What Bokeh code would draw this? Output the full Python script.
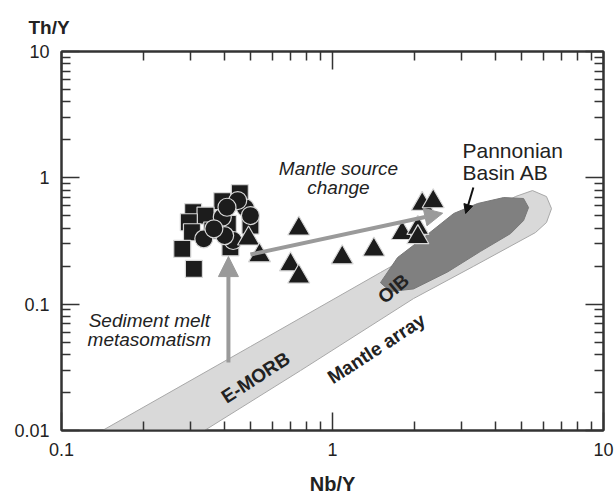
from bokeh.plotting import figure
from bokeh.models import (Range1d, LogAxis, FixedTicker, CustomJSTickFormatter,
                          Arrow, NormalHead)
from bokeh.core.properties import value
from bokeh.embed import file_html
from bokeh.resources import INLINE
import math

# ---------------- data ----------------
sq_x = [0.306, 0.455, 0.392, 0.340, 0.295, 0.303, 0.411, 0.279, 0.308, 0.498, 0.420, 0.360]
sq_y = [0.534, 0.755, 0.653, 0.503, 0.445, 0.371, 0.432, 0.274, 0.190, 0.419, 0.282, 0.383]

ci_x = [0.477, 0.447, 0.498, 0.392, 0.335, 0.430, 0.400, 0.365, 0.408]
ci_y = [0.579, 0.661, 0.503, 0.488, 0.329, 0.319, 0.349, 0.395, 0.585]

tr_x = [0.490, 0.538, 0.751, 0.700, 0.751, 1.086, 1.421, 1.807, 2.065, 2.065, 2.143, 2.353]
tr_y = [0.330, 0.243, 0.396, 0.206, 0.165, 0.234, 0.270, 0.365, 0.400, 0.338, 0.620, 0.651]

# Mantle array band outline
band_x = [0.1416, 0.498, 1.503, 3.23, 4.73, 5.47, 6.16, 6.43, 6.16, 5.61, 3.31, 1.99, 0.762, 0.337]
band_y = [0.01, 0.0462, 0.178, 0.451, 0.711, 0.793, 0.711, 0.571, 0.443, 0.369, 0.199, 0.1107, 0.0298, 0.01]

# Pannonian Basin AB field outline
pb_x = [1.503, 1.738, 2.17, 2.80, 3.43, 4.28, 5.07, 5.29, 5.07, 4.54, 3.52, 2.66, 1.99, 1.637]
pb_y = [0.148, 0.234, 0.337, 0.522, 0.626, 0.698, 0.686, 0.582, 0.459, 0.362, 0.262, 0.180, 0.1320, 0.126]

x_ticks = [0.1, 1, 10]
y_ticks = [0.01, 0.1, 1, 10]
x_minor = [0.2, 0.3, 0.4, 0.5, 0.6, 0.7, 0.8, 0.9, 2, 3, 4, 5, 6, 7, 8, 9]
y_minor = [0.02, 0.03, 0.04, 0.05, 0.06, 0.07, 0.08, 0.09,
           0.2, 0.3, 0.4, 0.5, 0.6, 0.7, 0.8, 0.9, 2, 3, 4, 5, 6, 7, 8, 9]

FONT = "Liberation Sans"
INK = "#222222"
AXC = "#333333"

p = figure(width=616, height=497, x_axis_type="log", y_axis_type="log",
           x_range=Range1d(0.1, 10), y_range=Range1d(0.01, 10),
           output_backend="svg", toolbar_location=None,
           min_border_left=61, min_border_right=13, min_border_top=51, min_border_bottom=66)
p.xgrid.visible = False
p.ygrid.visible = False
p.outline_line_color = AXC
p.outline_line_width = 2
p.background_fill_color = "white"
p.border_fill_color = "white"

# title "Th/Y"
p.title.text = "Th/Y"
p.title.text_font = FONT
p.title.text_font_size = "19px"
p.title.text_font_style = "bold"
p.title.text_color = INK
p.title.align = "left"
p.title.offset = -33
p.title.standoff = 27

fmt = CustomJSTickFormatter(code="return tick.toString();")
blank = CustomJSTickFormatter(code="return '';")

def style_axis(ax, labels):
    ax.axis_line_color = AXC
    ax.axis_line_width = 2
    ax.major_tick_line_color = AXC
    ax.major_tick_line_width = 1.5
    ax.minor_tick_line_color = AXC
    ax.minor_tick_line_width = 1.5
    ax.major_tick_in = 18
    ax.major_tick_out = 0
    ax.minor_tick_in = 9
    ax.minor_tick_out = 0
    ax.major_label_text_font = FONT
    ax.major_label_text_font_size = "18px"
    ax.major_label_text_color = INK
    if not labels:
        ax.major_label_standoff = 0
        ax.major_label_text_font_size = "1px"

xb = p.xaxis[0]
xb.ticker = FixedTicker(ticks=x_ticks, minor_ticks=x_minor)
xb.formatter = fmt
style_axis(xb, True)
xb.major_label_standoff = 12
xb.axis_label = "Nb/Y"
xb.axis_label_text_font = FONT
xb.axis_label_text_font_size = "20px"
xb.axis_label_text_font_style = "bold"
xb.axis_label_text_color = INK
xb.axis_label_standoff = 14

yl = p.yaxis[0]
yl.ticker = FixedTicker(ticks=y_ticks, minor_ticks=y_minor)
yl.formatter = fmt
style_axis(yl, True)
yl.major_label_standoff = 12

xt = LogAxis(ticker=FixedTicker(ticks=x_ticks, minor_ticks=x_minor), formatter=blank)
style_axis(xt, False)
p.add_layout(xt, "above")
yr = LogAxis(ticker=FixedTicker(ticks=y_ticks, minor_ticks=y_minor), formatter=blank)
style_axis(yr, False)
p.add_layout(yr, "right")

# fields
p.patch(band_x, band_y, fill_color="#d9d9d9", line_color="#a8a8a8", line_width=1)
p.patch(pb_x, pb_y, fill_color="#808080", line_color="#787878", line_width=1)

# arrows
grey = "#9a9a9a"
p.add_layout(Arrow(x_start=0.413, y_start=0.0345, x_end=0.413, y_end=0.238,
                   line_color=grey, line_width=4,
                   end=NormalHead(size=20, fill_color=grey, line_color=grey, line_width=1)))
p.add_layout(Arrow(x_start=0.498, y_start=0.247, x_end=2.55, y_end=0.525,
                   line_color=grey, line_width=4,
                   end=NormalHead(size=18, fill_color=grey, line_color=grey, line_width=1)))
p.add_layout(Arrow(x_start=3.31, y_start=0.838, x_end=3.10, y_end=0.522,
                   line_color="#111111", line_width=2,
                   end=NormalHead(size=9, fill_color="#111111", line_color="#111111", line_width=1)))

# samples
mk = dict(fill_color="#1c1c1c", line_color="#d8d8d8", line_width=1.2)
p.scatter(sq_x, sq_y, marker="square", size=17, **mk)
p.scatter(ci_x, ci_y, marker="circle", size=18, **mk)
p.scatter(tr_x, tr_y, marker="triangle", size=22, **mk)

# annotations
def txt(x, y, s, size="20px", style="normal", angle=0.0, align="center"):
    p.text(x=[x], y=[y], text=[s], text_font=value(FONT), text_font_size=value(size),
           text_font_style=style, text_color=INK, text_align=align,
           text_baseline="middle", angle=angle)

txt(1.052, 1.186, "Mantle source", "19px", "italic")
txt(1.052, 0.838, "change", "19px", "italic")
txt(3.018, 1.644, "Pannonian", "21px", "normal", align="left")
txt(3.018, 1.10, "Basin AB", "21px", "normal", align="left")
txt(0.211, 0.0741, "Sediment melt", "19px", "italic")
txt(0.211, 0.0525, "metasomatism", "19px", "italic")
txt(0.520, 0.0262, "E-MORB", "19px", "bold", angle=math.radians(33))
txt(1.453, 0.0445, "Mantle array", "19px", "bold", angle=math.radians(33))
txt(1.679, 0.1329, "OIB", "19px", "bold", angle=math.radians(40))

open("out.html", "w").write(file_html(p, INLINE))
